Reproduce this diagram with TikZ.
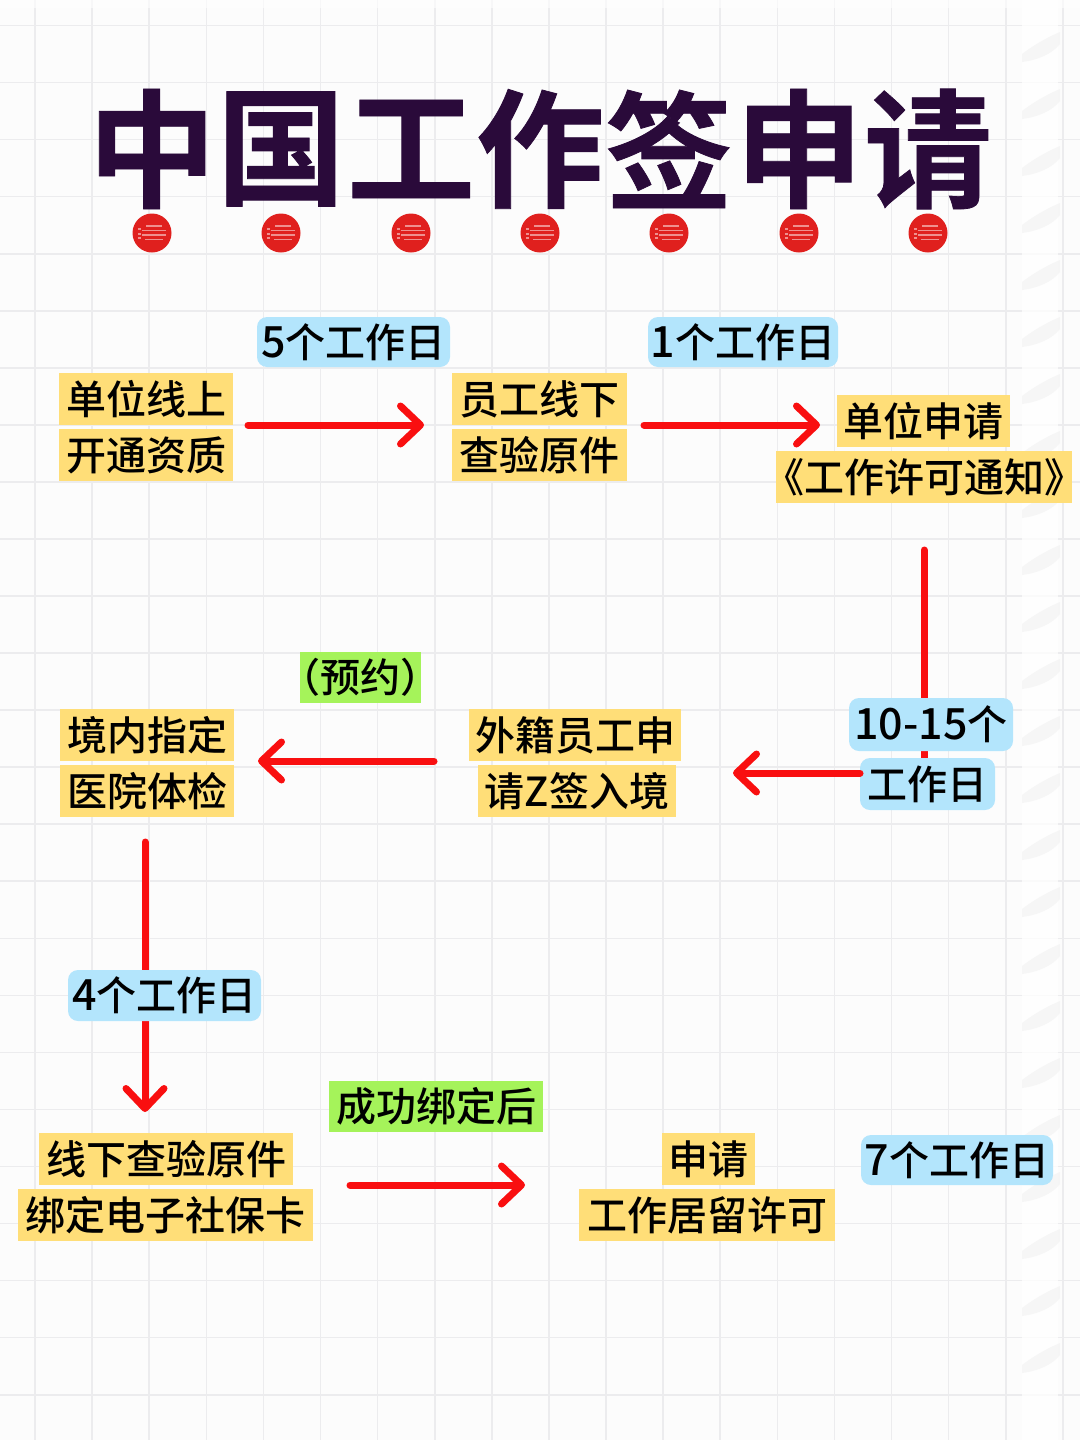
\documentclass[tikz,border=0pt]{standalone}
\usepackage{fontspec}
\setmainfont{Noto Sans CJK SC Medium}
\newfontfamily\haltfont{Noto Sans CJK SC Medium}[RawFeature=+halt]
\newfontfamily\titlefont{Noto Sans CJK SC Bold}[FakeBold=0.6]
\usetikzlibrary{fit,arrows.meta}
\definecolor{paper}{HTML}{FCFCFC}
\definecolor{gridc}{HTML}{ECECEE}
\definecolor{ytag}{HTML}{FFDE78}
\definecolor{btag}{HTML}{B3E5FC}
\definecolor{gtag}{HTML}{A5F35A}
\definecolor{arrowc}{HTML}{F90F10}
\definecolor{titlec}{HTML}{2A0A3A}
\definecolor{dotc}{HTML}{E0201E}
\tikzset{
 x=1pt,y=-1pt,
 lab/.style={inner sep=0pt,outer sep=0pt,text=black,font=\fontsize{40}{40}\selectfont,anchor=center},
 ytagbox/.style={lab,fill=ytag},
 btagbox/.style={lab,fill=btag,rounded corners=10pt},
 gtagbox/.style={lab,fill=gtag},
 grp/.style={inner sep=0pt,outer sep=0pt},
 flow/.style={draw=arrowc,line width=7pt,line cap=round,line join=round},
 flowa/.style={flow,-{Straight Barb[length=20pt,width=38pt,line width=7pt,round]}},
 titlechar/.style={inner sep=0pt,text=titlec,font=\titlefont\fontsize{128}{128}\selectfont},
}
\newcommand{\dg}[1]{{\fontsize{43}{40}\selectfont #1}}
% \tagbox{style}{x1}{y1}{x2}{y2}{name}{text}
\newcommand{\tagbox}[7]{\node[#1,minimum width=#4pt-#2pt,minimum height=#5pt-#3pt] (#6) at ({(#2+#4)/2},{(#3+#5)/2}) {\hbox to 0pt{\hss #7\hss}};}
\newcommand{\dotmark}[2]{%
 \fill[dotc] (#1,#2) circle[radius=19.5];
 \foreach \dy/\hw in {-7/9,-2.5/13,2/13,6.5/10}{\draw[white!50!dotc,line width=1.5pt] ({#1-\hw+3},{#2+\dy}) -- ({#1+\hw+1},{#2+\dy});}
 \foreach \dy in {-4,1,5}{\draw[white!50!dotc,line width=1.2pt] ({#1-14},{#2+\dy}) -- ({#1-11},{#2+\dy});}
}
\begin{document}
\begin{tikzpicture}
\useasboundingbox (0,0) rectangle (1080,1440);
\fill[paper] (0,0) rectangle (1080,1440);
\foreach \k in {0,...,18}{\draw[gridc,line width=1.6pt] ({35+57.1*\k},0) -- ({35+57.1*\k},1440);}
\foreach \k in {0,...,24}{\draw[gridc,line width=1.6pt] (0,{25.5+57.05*\k}) -- (1080,{25.5+57.05*\k});}
\fill[white,opacity=.75] (1022,0) rectangle (1058,1440);
\fill[white,opacity=.6] (0,0) rectangle (1080,8);
\foreach \k in {0,...,23}{\fill[black!6,opacity=.55] (1022,{54+57*\k}) .. controls (1035,{44+57*\k}) and (1050,{36+57*\k}) .. (1060,{32+57*\k}) -- (1060,{44+57*\k}) .. controls (1052,{54+57*\k}) and (1038,{60+57*\k}) .. (1022,{62+57*\k}) -- cycle;}
% title
\node[titlechar] (t1) at (152,149) {中};
\node[titlechar] (t2) at (281,149) {国};
\node[titlechar] (t3) at (411,149) {工};
\node[titlechar] (t4) at (540,149) {作};
\node[titlechar] (t5) at (669,149) {签};
\node[titlechar] (t6) at (799,149) {申};
\node[titlechar] (t7) at (928,149) {请};
\dotmark{152}{233}\dotmark{281}{233}\dotmark{411}{233}\dotmark{540}{233}\dotmark{669}{233}\dotmark{799}{233}\dotmark{928}{233}
% step nodes
\tagbox{ytagbox}{59}{373}{233}{425}{a1}{单位线上}
\tagbox{ytagbox}{59}{429}{233}{481}{a2}{开通资质}
\node[grp,fit=(a1)(a2)] (A) {};
\tagbox{ytagbox}{452}{373}{627}{425}{b1}{员工线下}
\tagbox{ytagbox}{452}{429}{627}{481}{b2}{查验原件}
\node[grp,fit=(b1)(b2)] (B) {};
\tagbox{ytagbox}{837}{395}{1010}{447}{c1}{单位申请}
\tagbox{ytagbox}{776}{451}{1072}{503}{c2}{{\haltfont 《}工作许可通知{\haltfont 》}}
\tagbox{ytagbox}{469}{709}{681}{761}{e1}{外籍员工申}
\tagbox{ytagbox}{478}{765}{676}{817}{e2}{请Z签入境}
\node[grp,fit=(e1)(e2)] (E) {};
\tagbox{ytagbox}{60}{709}{234}{761}{f1}{境内指定}
\tagbox{ytagbox}{60}{765}{234}{817}{f2}{医院体检}
\node[grp,fit=(f1)(f2)] (F) {};
\tagbox{ytagbox}{39}{1133}{293}{1185}{g1}{线下查验原件}
\tagbox{ytagbox}{18}{1189}{313}{1241}{g2}{绑定电子社保卡}
\node[grp,fit=(g1)(g2)] (G) {};
\tagbox{ytagbox}{662}{1133}{755}{1185}{h1}{申请}
\tagbox{ytagbox}{579}{1189}{835}{1241}{h2}{工作居留许可}
\node[grp,fit=(h1)(h2)] (H) {};
% connectors
\coordinate (dEnd) at (924,760);
\draw[flow,shorten <=47pt] (c2.south -| dEnd) -- (dEnd);
\draw[flowa,shorten <=15pt,shorten >=28pt] ([yshift=2pt]A.east) -- ([yshift=2pt]B.west);
\draw[flowa,shorten <=17pt,shorten >=17pt] (B.east |- 0,425) -- (c1.west |- 0,425);
\draw[flowa,shorten <=35pt,shorten >=24pt] (E.west |- 0,761) -- (F.east |- 0,761);
\draw[flowa,shorten >=21pt,shorten <=25pt] (F.south -| 145,0) -- (G.north -| 145,0);
\draw[flowa,shorten <=37pt,shorten >=54pt] (G.east |- 0,1185) -- (H.west |- 0,1185);
% duration labels
\tagbox{btagbox}{257}{317}{450}{367}{l1}{\dg{5}个工作日}
\tagbox{btagbox}{648}{317}{838}{367}{l2}{\dg{1}个工作日}
\tagbox{btagbox}{849}{698}{1013}{751}{l3}{\dg{10-15}个}
\tagbox{btagbox}{860}{758}{995}{810}{l4}{工作日}
\tagbox{btagbox}{68}{970}{261}{1021}{l5}{\dg{4}个工作日}
\tagbox{btagbox}{861}{1135}{1053}{1185}{l6}{\dg{7}个工作日}
\tagbox{gtagbox}{300}{652}{421}{703}{n1}{{\haltfont （}预约{\haltfont ）}}
\tagbox{gtagbox}{329}{1081}{543}{1132}{n2}{成功绑定后}
\draw[flowa,shorten >=52pt] (l4.west |- 0,773) -- (E.east |- 0,773);
\end{tikzpicture}
\end{document}
